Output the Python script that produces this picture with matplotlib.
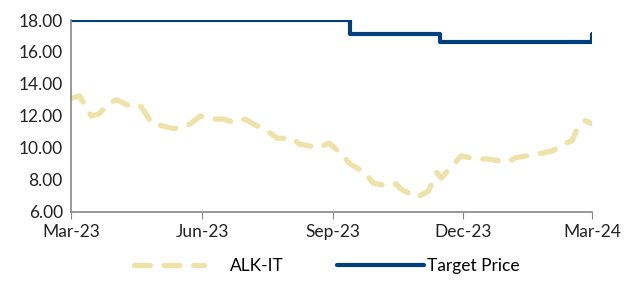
import matplotlib
matplotlib.use("Agg")
import matplotlib.pyplot as plt
import matplotlib.dates as mdates
import pandas as pd

plt.rcParams['font.family'] = ['Lato', 'DejaVu Sans']

# ALK-IT share price
price_dates = ["2023-03-01", "2023-03-07", "2023-03-15", "2023-03-20", "2023-03-30",
               "2023-04-02", "2023-04-14", "2023-04-19", "2023-04-27", "2023-05-03",
               "2023-05-12", "2023-05-22", "2023-05-31", "2023-06-07", "2023-06-16",
               "2023-06-23", "2023-07-01", "2023-07-07", "2023-07-16", "2023-07-24",
               "2023-08-04", "2023-08-08", "2023-08-22", "2023-08-29", "2023-09-07",
               "2023-09-13", "2023-09-24", "2023-09-29", "2023-10-10", "2023-10-15",
               "2023-10-19", "2023-10-30", "2023-11-07", "2023-11-13", "2023-11-16",
               "2023-11-24", "2023-11-30", "2023-12-11", "2023-12-19", "2024-01-01",
               "2024-01-08", "2024-01-22", "2024-02-02", "2024-02-10", "2024-02-16",
               "2024-02-19", "2024-02-25", "2024-03-01"]
price = [13.1, 13.25, 12.0, 12.1, 12.9, 13.0, 12.5, 12.6, 11.5, 11.4,
         11.2, 11.4, 12.0, 11.8, 11.8, 11.6, 11.8, 11.5, 11.1, 10.6,
         10.6, 10.25, 10.0, 10.3, 9.6, 9.0, 8.4, 7.8, 7.6, 7.75,
         7.4, 6.9, 7.3, 8.45, 8.1, 8.9, 9.5, 9.3, 9.3, 9.1,
         9.4, 9.6, 9.8, 10.25, 10.45, 11.1, 11.7, 11.5]

# Target price steps
tp_dates = ["2023-03-01", "2023-09-13", "2023-11-15", "2024-02-29", "2024-03-01"]
tp = [18.0, 17.1, 16.6, 16.6, 17.1]

price_dates = pd.to_datetime(price_dates)
tp_dates = pd.to_datetime(tp_dates)

fig = plt.figure(figsize=(6.24, 2.82), dpi=100)
ax = fig.add_axes([0.114, 0.249, 0.835, 0.68])

l1, = ax.plot(price_dates, price, color='#EEE2A9', lw=3.8, dashes=(3.0, 2.6),
              dash_capstyle='round', label='ALK-IT')
l2, = ax.plot(tp_dates, tp, color='#003F7D', lw=3.0, drawstyle='steps-post',
              solid_joinstyle='round', solid_capstyle='round', label='Target Price')

ax.set_ylim(6, 18)
ax.set_yticks(range(6, 19, 2))
ax.yaxis.set_major_formatter(matplotlib.ticker.FormatStrFormatter('%.2f'))
ax.set_xlim(pd.Timestamp("2023-03-01"), pd.Timestamp("2024-03-01"))
ax.xaxis.set_major_locator(mdates.MonthLocator(bymonth=[3, 6, 9, 12]))
ax.xaxis.set_major_formatter(mdates.DateFormatter('%b-%y'))

for s in ['top', 'right']:
    ax.spines[s].set_visible(False)
for s in ['left', 'bottom']:
    ax.spines[s].set_color('#888888')
    ax.spines[s].set_linewidth(1.2)
ax.tick_params(axis='y', length=0, labelsize=12.5, pad=6, colors='#222222')
ax.tick_params(axis='x', length=5, color='#888888', labelsize=12.5, pad=4,
               labelcolor='#222222')

# two legend entries placed separately, like the original
leg1 = fig.legend(handles=[l1], loc='center left', bbox_to_anchor=(0.215, 0.055),
                  frameon=False, fontsize=12.5, handlelength=4.0,
                  handletextpad=1.5, borderpad=0, borderaxespad=0)
leg2 = fig.legend(handles=[l2], loc='center left', bbox_to_anchor=(0.54, 0.055),
                  frameon=False, fontsize=12.5, handlelength=5.0,
                  handletextpad=0.2, borderpad=0, borderaxespad=0)

plt.savefig('out.png', dpi=100)
